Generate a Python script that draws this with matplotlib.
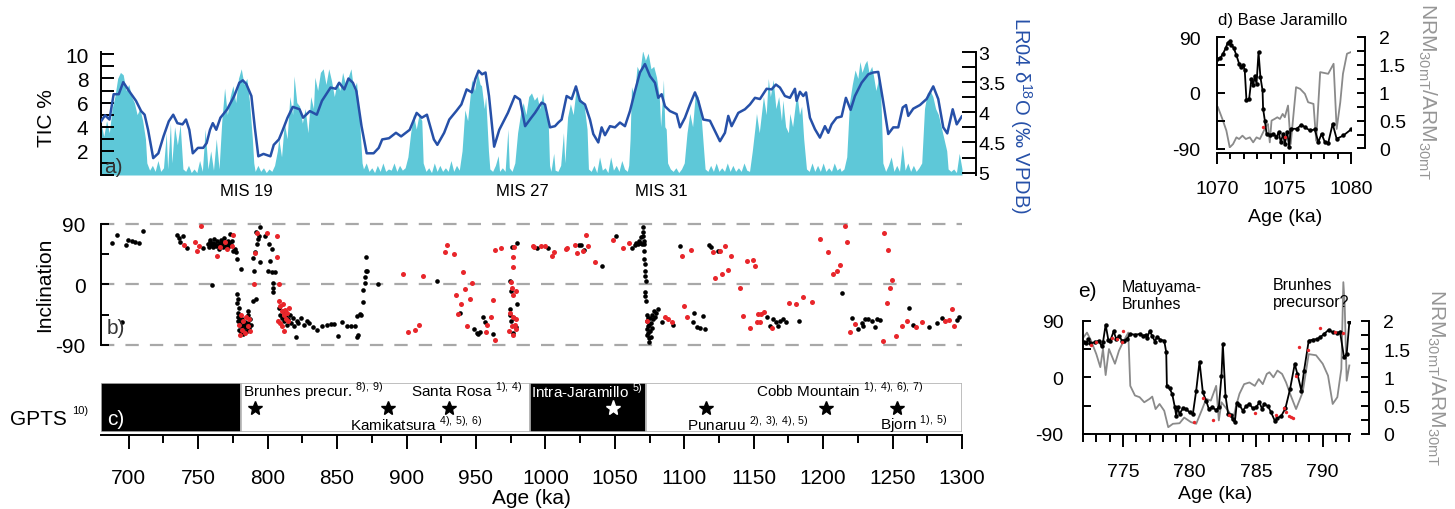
import numpy as np
import matplotlib
matplotlib.use("Agg")
import matplotlib.pyplot as plt
from matplotlib.ticker import MultipleLocator

plt.rcParams['font.family'] = ['Liberation Sans', 'DejaVu Sans']

# ---------------- data ----------------
# a) TIC % (teal fill)
tic_age = [680, 682, 684, 686, 688, 690, 692, 694, 696, 698, 700, 702, 704, 706, 708, 710, 712, 713, 715, 717,
           719, 721, 723, 725, 727, 728, 730, 731, 733, 735, 737, 739, 741, 743, 745, 747, 749, 751, 753, 755,
           757, 759, 761, 763, 765, 767, 769, 771, 773, 775, 777, 779, 781, 783, 785, 787, 789, 790, 791, 793,
           795, 797, 799, 801, 803, 805, 807, 808, 810, 812, 814, 816, 818, 819, 821, 823, 825, 827, 829, 831,
           833, 834, 836, 838, 840, 842, 844, 846, 848, 850, 852, 854, 856, 858, 860, 862, 864, 866, 868, 869,
           871, 873, 875, 877, 879, 881, 883, 885, 887, 889, 891, 893, 895, 897, 899, 901, 903, 905, 907, 909,
           911, 912, 914, 916, 918, 920, 922, 924, 926, 928, 930, 932, 934, 936, 938, 940, 942, 944, 946, 947,
           949, 951, 953, 954, 956, 957, 959, 960, 962, 964, 966, 967, 969, 971, 973, 974, 976, 978, 980, 982,
           984, 986, 988, 990, 992, 994, 996, 998, 1000, 1002, 1003, 1004, 1006, 1007, 1009, 1011, 1013, 1014, 1016, 1018,
           1020, 1022, 1024, 1026, 1028, 1030, 1031, 1033, 1035, 1037, 1039, 1041, 1043, 1045, 1047, 1049, 1051, 1053, 1055, 1057,
           1059, 1060, 1061, 1062, 1064, 1066, 1068, 1070, 1072, 1074, 1076, 1078, 1080, 1082, 1083, 1085, 1086, 1087, 1088, 1090,
           1092, 1094, 1096, 1098, 1100, 1102, 1104, 1106, 1108, 1110, 1112, 1114, 1115, 1117, 1119, 1121, 1123, 1125, 1127, 1129,
           1131, 1133, 1135, 1137, 1139, 1141, 1143, 1145, 1147, 1149, 1151, 1152, 1154, 1156, 1157, 1159, 1160.5, 1162, 1164, 1166,
           1168, 1170, 1171, 1173, 1175, 1176, 1178, 1181, 1183, 1184.5, 1186, 1188, 1190, 1192, 1194, 1196, 1198, 1200, 1202, 1204,
           1206, 1208, 1210, 1212, 1213, 1215, 1217, 1219, 1221, 1223, 1225, 1226.5, 1228, 1230, 1231.5, 1233, 1235, 1236, 1238, 1240,
           1241, 1242, 1243, 1245, 1247, 1249, 1251, 1253, 1255, 1257, 1259, 1261, 1263, 1265, 1267, 1269, 1271, 1273, 1275, 1277,
           1279, 1281, 1283, 1285, 1287, 1289, 1290, 1292, 1294, 1296, 1298, 1300]
tic = [4.3, 3.2, 4.5, 3.5, 5.5, 6.5, 8.0, 8.5, 8.3, 7.0, 7.5, 6.5, 6.0, 5.0, 5.5, 4.5, 3.0, 1.0, 0.4, 0.8,
       0.3, 1.2, 0.3, 0.6, 3.5, 0.5, 4.3, 1.0, 4.0, 2.5, 4.2, 0.5, 0.3, 0.8, 0.2, 0.5, 0.2, 1.2, 0.3, 3.8,
       0.5, 2.0, 0.4, 3.0, 0.5, 4.5, 7.2, 5.0, 6.5, 7.4, 6.0, 8.0, 8.8, 7.5, 8.0, 6.0, 3.0, 1.0, 0.3, 0.8,
       0.3, 0.6, 0.2, 0.5, 0.3, 0.8, 2.0, 3.0, 1.5, 4.3, 3.0, 6.5, 5.0, 8.2, 6.0, 5.7, 4.3, 5.5, 3.5, 6.5,
       5.5, 8.1, 7.0, 8.5, 8.8, 7.5, 8.8, 7.8, 6.5, 7.7, 7.0, 8.5, 7.5, 8.1, 8.8, 7.0, 7.7, 4.9, 1.0, 0.5,
       1.0, 0.3, 0.6, 0.2, 0.8, 0.3, 1.0, 0.3, 0.5, 0.4, 1.0, 0.3, 0.8, 0.4, 0.6, 1.5, 3.5, 5.0, 3.8, 5.0,
       4.5, 1.0, 0.3, 0.6, 0.2, 1.0, 0.3, 0.8, 0.3, 0.6, 0.3, 1.2, 0.3, 0.8, 0.4, 2.0, 5.4, 4.5, 6.8, 7.9,
       7.0, 8.5, 7.5, 7.4, 5.5, 6.5, 2.0, 0.5, 0.3, 0.8, 1.6, 0.3, 0.6, 0.3, 3.8, 0.6, 0.3, 1.0, 3.5, 5.0,
       6.0, 5.0, 6.5, 6.8, 6.2, 6.5, 5.5, 6.8, 5.1, 4.5, 0.8, 0.3, 1.8, 0.4, 0.3, 0.8, 3.5, 1.0, 4.8, 5.9,
       5.0, 7.0, 6.5, 6.2, 5.7, 3.8, 0.5, 0.3, 0.8, 0.2, 1.5, 0.4, 0.6, 0.2, 1.5, 0.4, 0.8, 0.3, 1.2, 0.5,
       0.3, 0.8, 3.0, 7.3, 6.5, 9.0, 8.5, 10.3, 9.5, 10.1, 8.8, 9.0, 8.1, 6.5, 4.0, 7.9, 4.0, 3.8, 1.0, 0.5,
       0.3, 0.6, 0.2, 0.5, 1.0, 3.5, 5.1, 4.0, 6.8, 6.5, 5.1, 2.0, 0.5, 0.3, 0.8, 0.3, 1.0, 0.3, 0.6, 0.3,
       1.0, 0.3, 0.8, 0.3, 0.6, 0.3, 1.0, 0.4, 0.3, 2.0, 4.0, 5.1, 3.5, 5.5, 6.5, 5.0, 8.0, 6.5, 7.9, 5.5,
       6.5, 4.5, 6.2, 4.0, 3.5, 5.1, 4.0, 6.8, 5.0, 5.7, 3.0, 0.5, 0.3, 1.0, 0.3, 0.8, 0.3, 1.0, 0.3, 0.6,
       0.3, 1.0, 0.4, 0.6, 0.3, 0.5, 1.5, 6.0, 7.5, 8.7, 8.0, 9.4, 8.5, 9.2, 9.5, 8.5, 9.0, 8.4, 7.0, 8.0,
       7.9, 5.0, 1.0, 0.3, 0.8, 1.5, 0.3, 0.8, 0.3, 2.5, 0.4, 1.0, 0.3, 0.8, 0.3, 0.6, 1.0, 5.5, 6.8, 7.0,
       6.5, 5.5, 5.0, 4.0, 3.0, 2.0, 0.5, 0.3, 0.5, 0.2, 1.8, 0.5]

# a) LR04 benthic d18O (blue line)
lr04_age = [680.0, 682.9, 686.1, 689.1, 692.8, 696.0, 700.3, 705.2, 708.9, 711.4, 713.9, 717.6, 721.3, 725.0, 728.8,
            732.0, 735.0, 738.7, 741.2, 743.6, 746.1, 749.8, 753.6, 756.1, 758.5, 760.5, 763.0, 766.0, 770.9, 775.9,
            779.6, 782.1, 784.6, 788.3, 790.8, 793.3, 797.0, 802.0, 804.4, 808.1, 810.6, 814.3, 818.1, 823.0, 825.5,
            830.4, 835.4, 839.1, 845.3, 849.0, 851.5, 855.2, 858.2, 861.4, 863.9, 867.6, 871.3, 876.3, 880.0, 882.5,
            887.4, 892.4, 896.1, 902.3, 907.3, 911.0, 914.7, 919.7, 922.2, 927.1, 930.8, 935.8, 939.5, 943.3, 947.0,
            949.5, 951.9, 954.4, 956.9, 959.4, 963.1, 966.8, 973.0, 978.0, 981.7, 985.4, 989.5, 992.5, 997.3, 999.7,
            1003.3, 1006.9, 1009.3, 1011.7, 1015.3, 1018.9, 1022.0, 1024.9, 1028.5, 1032.1, 1034.5, 1038.1, 1040.5, 1042.9, 1046.5,
            1050.1, 1053.7, 1057.3, 1060.9, 1064.5, 1068.1, 1071.7, 1075.3, 1078.9, 1081.3, 1083.7, 1086.1, 1089.7, 1094.5, 1096.9,
            1100.5, 1104.1, 1107.7, 1110.1, 1113.7, 1118.5, 1122.1, 1125.7, 1129.3, 1131.7, 1134.1, 1138.9, 1143.7, 1147.3, 1150.9,
            1154.5, 1159.3, 1162.9, 1166.0, 1168.9, 1172.5, 1176.1, 1179.7, 1180.9, 1183.3, 1185.7, 1187.7, 1190.5, 1194.1, 1197.7,
            1201.3, 1203.7, 1206.1, 1209.7, 1213.3, 1216.4, 1219.8, 1222.9, 1227.7, 1232.5, 1236.1, 1239.7, 1243.3, 1246.9, 1250.5,
            1254.1, 1257.3, 1259.7, 1261.3, 1264.9, 1269.7, 1274.5, 1279.3, 1282.9, 1286.5, 1289.4, 1293.3, 1296.2, 1299.8]
lr04 = [4.15, 4.05, 4.12, 3.70, 3.70, 3.50, 3.65, 3.81, 3.98, 4.04, 4.29, 4.76, 4.68, 4.40, 4.15,
        4.04, 4.18, 4.20, 4.12, 4.29, 4.68, 4.59, 4.59, 4.51, 4.29, 4.18, 4.29, 4.09, 3.95, 3.73,
        3.51, 3.47, 3.53, 3.73, 4.26, 4.73, 4.69, 4.73, 4.54, 4.45, 4.31, 4.09, 3.91, 3.95, 4.09,
        3.98, 4.04, 3.81, 3.59, 3.61, 3.51, 3.62, 3.44, 3.51, 3.65, 4.23, 4.68, 4.68, 4.59, 4.45,
        4.43, 4.34, 4.40, 4.29, 4.01, 4.09, 4.04, 4.45, 4.54, 4.34, 4.12, 3.98, 3.87, 3.62, 3.67,
        3.45, 3.31, 3.37, 3.34, 3.73, 4.57, 4.29, 4.01, 3.73, 3.79, 4.23, 4.10, 4.01, 3.84, 3.87,
        4.25, 4.23, 4.17, 4.12, 3.73, 3.78, 3.57, 3.81, 3.87, 4.12, 4.36, 4.50, 4.25, 4.38, 4.23,
        4.25, 4.17, 4.23, 3.98, 3.65, 3.34, 3.20, 3.40, 3.51, 3.76, 3.70, 3.90, 3.98, 4.03, 4.25,
        4.09, 3.87, 3.67, 3.81, 4.12, 4.14, 4.31, 4.48, 4.34, 4.06, 4.23, 4.01, 3.95, 3.87, 3.76,
        3.78, 3.61, 3.62, 3.54, 3.59, 3.73, 3.76, 3.61, 3.81, 3.66, 3.73, 3.67, 4.09, 4.28, 4.42,
        4.23, 4.34, 4.20, 4.09, 4.07, 3.76, 3.96, 3.73, 3.51, 3.37, 3.34, 3.33, 3.83, 4.36, 4.25,
        4.25, 3.92, 3.88, 4.06, 3.94, 3.88, 3.78, 3.57, 3.78, 4.25, 4.35, 3.95, 4.20, 4.07]

# b) inclination
black_age = [688.2, 691.8, 694.9, 697.8, 699.7, 702.1, 704.5, 707.6, 710.0,
             734.5, 736.2, 736.9, 739.3, 741.7, 753.2, 758.5, 759.7,
             757.0, 757.8, 758.8, 759.5, 760.3, 761.0, 761.6, 762.3, 763.0, 763.6, 764.2, 764.8, 765.5, 766.1,
             766.8, 767.4, 768.0, 768.6, 769.2, 769.8, 770.5, 771.1, 771.8, 772.4, 773.0, 773.7, 774.5, 775.4,
             776.5, 777.3, 777.7, 780.6,
             777.7, 778.9, 778.2, 779.5, 778.5, 779.0, 780.2, 778.6, 779.8, 780.8, 781.5, 782.3, 779.2, 780.5,
             781.9, 783.0, 783.8, 784.5, 785.2, 786.0, 786.8, 787.5, 786.2, 788.0, 785.5, 789.2, 791.5,
             791.5, 794.6, 792.7, 792.2, 790.8, 794.6, 790.3, 789.5, 793.5,
             798.1, 801.2, 802.9, 801.7, 800.5, 803.4, 805.3, 803.6, 804.1, 804.1,
             808.0, 809.0, 810.0, 811.0, 812.0, 813.0, 814.0, 815.0, 816.0, 817.0, 818.0, 819.0, 820.4, 821.0,
             822.0, 824.0, 826.0, 828.0, 830.0,
             832.9, 835.8, 838.9, 842.5, 845.4, 847.8, 850.4, 853.8, 857.0, 859.8, 862.9, 864.1, 865.3, 864.1,
             866.5, 867.2, 868.4, 868.4, 870.1, 870.1, 870.8, 871.8, 870.6, 879.2,
             921.7, 938.8, 948.6, 950.5, 951.7, 952.9, 955.3, 956.5, 962.5,
             975.7, 979.3, 974.8, 975.2, 974.5, 974.8, 975.5, 976.9, 978.5, 977.5, 979.8,
             994.2, 1002.1, 1024.4, 1025.3, 1028.0, 1040.5, 1050.6, 1062.1,
             1064.5, 1065.5, 1066.5, 1067.2, 1068.0, 1068.8, 1069.5, 1070.0, 1070.4, 1070.6, 1070.8, 1071.0,
             1071.2, 1071.2, 1071.4, 1071.7, 1072.0, 1072.4, 1071.7, 1072.2, 1071.9,
             1072.9, 1073.2, 1073.5, 1073.8, 1074.0, 1074.3, 1074.6, 1074.8, 1075.2, 1075.6, 1076.0, 1076.5,
             1077.0, 1077.5, 1078.0, 1079.0, 1080.0, 1081.3, 1083.7, 1092.1, 1073.3, 1075.8, 1074.0,
             1096.9, 1107.2, 1106.0, 1108.9, 1111.3, 1113.2, 1114.9, 1117.8, 1119.0, 1124.0,
             1159.8, 1161.7, 1164.1, 1165.8, 1167.6, 1168.9, 1170.8, 1173.3, 1182.9,
             1213.8, 1220.5, 1225.3, 1227.7, 1230.1, 1232.5, 1234.9, 1229.0, 1237.3, 1239.0, 1241.0,
             1262.1, 1264.5, 1276.2, 1282.2, 1285.3, 1296.2, 1297.8]
black_inc = [61.2, 73.6, -55.7, 59.2, 66.6, 65.1, 63.6, 61.6, 79.6,
             73.6, 68.6, 62.7, 72.6, 53.7, 53.7, 62.7, -0.5,
             60, 55, 66, 58, 62, 55, 68, 60, 57, 64, 59, 53, 62, 66,
             58, 61, 55, 69, 63, 57, 60, 64, 56, 61, 75, 58, 64, 50,
             52, 48, 37.8, 22.9,
             -14.4, -21.9, -28, -35, -42, -48, -50, -55, -58, -62, -52, -66, -68, -71,
             -74, -60, -56, -63, -70, -58, -65, -52, -45, -60, -40, -25, -21.9,
             77.6, 85, 67.6, 60.2, 47.7, 32.8, 20.4, 40, 72,
             72, 60.2, 52.7, 35.3, 20.4, 17.9, 17.9, 1.5, -6.0, -11,
             -35, -45, -50, -40, -55, -48, -60, -52, -45, -58, -50, -62, -79, -55,
             -58, -50, -60, -55, -57,
             -64.2, -67.6, -61.7, -60.7, -59.2, -59.2, -77.6, -55.7, -61.7, -62.7, -62.7, -79, -75.6, -47.7,
             -44.3, -46, -27, -8, 2.5, 10.4, 19.4, 20.4, 41.3, 0.5,
             4.5, -42.8, -66.6, -72.6, -74.1, -71, -49.2, -56.7, -74.1,
             55.2, 61.6, 5, -10, -36.8, -45, -55, -72.6, -63, -50, -30,
             53.7, 53.7, 58.7, 58.7, 51.2, 27.8, 71.6, 53.7,
             58, 62, 60, 65, 62, 70, 60, 85, 78, 72, 65, 60,
             50, 37.8, 30, 20.4, 12, 5.5, -12, -24.4, -18,
             -66.6, -45, -55, -62, -72, -80, -86.5, -60, -70, -50, -58, -65,
             -45, -52, -40, -48, -43, -36.8, -56.7, -60.7, -76, -79, -50,
             57.7, -42.8, -56.7, -64.2, -65, -47.7, -66.6, 59.2, 56.2, 49.2,
             -49.2, -61.7, -51.7, -56, -61.7, -54.2, -52, -56.7, -55.2,
             -13.4, -50.2, -66, -58, -52, -51, -55, -62, -63, -52, -53,
             -35.3, -60.7, -63.2, -58.2, -50.2, -53.2, -49.2]

red_age = [739.8, 747.7, 748.9, 750.8, 752.0, 763.8, 774.1, 775.3, 769.5, 766.0, 771.0,
           779.5, 780.5, 781.5, 782.5, 783.5, 784.5, 785.5, 786.5, 787.5, 780.0,
           790.3, 791.0, 792.0, 799.4, 807.0, 806.5, 808.4,
           808.5, 809.2, 810.0, 810.8, 811.5, 812.2, 813.0, 813.8, 814.5, 815.2, 809.0, 810.5, 812.0, 807.5,
           897.7, 901.3, 906.1, 909.3, 912.2, 927.9, 929.1, 934.2, 935.7, 937.4, 939.3, 941.0, 942.2, 943.4,
           945.8, 947.5, 957.2, 958.0, 961.1, 962.1, 963.7, 963.7, 967.8,
           977.5, 976.4, 976.9, 975.5, 976.2, 976.4, 978.5, 974.5, 977.0, 978.8, 975.8, 973.8, 978.5, 977.8, 976.5,
           991.1, 991.8, 996.6, 999.7, 1004.5, 1006.2, 1014.8, 1015.8, 1021.3, 1023.0, 1026.8, 1029.2, 1030.4,
           1035.7, 1048.4, 1056.1, 1060.4, 1072.9, 1086.1, 1088.5, 1090.9, 1100.0, 1101.7, 1098.6, 1104.6,
           1120.4, 1125.7, 1129.3, 1133.4, 1131.7, 1127.4, 1122.1, 1140.1, 1142.5, 1145.0, 1149.7, 1151.2,
           1147.3, 1153.3, 1155.0, 1157.6, 1152.1, 1154.5, 1162.9, 1175.6, 1180.5, 1185.2, 1191.7, 1197.7,
           1203.7, 1207.3, 1210.2, 1212.1, 1215.7, 1217.4, 1219.3, 1222.9, 1244.0, 1246.9, 1249.8, 1248.1,
           1245.7, 1242.9, 1252.2, 1257.0, 1260.2, 1266.9, 1271.4, 1287.8, 1290.9, 1292.5, 1294.2]
red_inc = [59.2, 63.6, 50.2, 56.7, 87.5, 42.8, 57.7, 73.6, 62.7, 55, 52,
           -60, -45, -68, -55, -72, -48, -62, -52, -70, -75,
           0.5, 46, 76.6, 76.6, 72, 40.3, 0.5,
           -25, -33, -40, -30, -45, -38, -52, -42, -55, -35, -58, -62, -70, -55,
           15.4, -70.6, -67.6, -60.2, 12.9, 47.7, 58.7, 44.8, -15.4, -44.3, -29.3, 17.9, -7.0, -62.7,
           -21.9, 2.5, -70.6, -60, -48.2, -23.4, -83, 51.7, 53.7,
           55, 40.3, 25.4, 3, -5, -15.4, -10, -42, -48, -52, -62, -70, -67, -60, -75,
           57.2, 56.2, 57.7, 57.7, 42.8, 47.7, 52.7, 54, 58.7, 46.2, 49.2, 74.1, 56.7,
           32.8, 66.1, 53.7, 61.7, -54.2, -48.2, -51.7, -56.7, -32.3, -48.2, 41.8, 51.7,
           47.7, 49.2, 56.7, 42.8, 21.4, 15.4, 8.9, -5, -46.7, 34.8, 36.8, 26.8,
           -65.6, -43.8, -44.5, -41.8, -55.7, -56.5, -65.1, -27.8, -28.8, -18.9, -25.9, 67.6,
           47.7, 15.4, 19.4, 29.3, 86.5, 63.6, -71.6, -59.2, 76.6, 51.7, 6, -5.5,
           -28.3, -85, -76.6, -61.7, -54.2, -64.2, -55.7, -55.2, -53.2, -36.8, -62.7]

# c) GPTS polarity chrons (age start, age end, normal?)
chron_start = [680, 781, 988.9, 1072.5]
chron_end = [781, 988.9, 1072.5, 1300]
chron_normal = [True, False, True, False]
event_name = ["Brunhes precur.", "Kamikatsura", "Santa Rosa", "Intra-Jaramillo",
              "Punaruu", "Cobb Mountain", "Bjorn"]
event_ref = ["8), 9)", "4), 5), 6)", "1), 4)", "5)", "2), 3), 4), 5)", "1), 4), 6), 7)", "1), 5)"]
event_age = [790.8, 886.7, 930.9, 1048.9, 1115.4, 1201.8, 1252.9]

# d) Base Jaramillo
d_age = [1070.0, 1070.25, 1070.45, 1070.65, 1070.8, 1070.95, 1071.07, 1071.25, 1071.45, 1071.65, 1071.8, 1071.95,
         1072.07, 1072.2, 1072.4, 1072.57, 1072.7, 1072.82, 1072.95, 1073.1, 1073.24, 1073.4, 1073.44, 1073.57,
         1073.7, 1073.94, 1074.2, 1074.44, 1074.6, 1074.76, 1074.94, 1075.06, 1075.24, 1075.39, 1075.5, 1075.94,
         1076.3, 1076.56, 1076.93, 1077.3, 1077.56, 1077.8, 1078.05, 1078.3, 1078.63, 1078.93, 1079.43, 1080.0]
d_inc = [55, 56, 63, 72.2, 80.8, 83, 77.6, 72.2, 60.4, 46.9, 41.5, 45.3,
         36.1, -12.4, -9.7, 22.6, 11.8, 26.9, 14.5, 65.7, 25.3, 3.7, -25.9, -44.8,
         -66.3, -69, -66.3, -71.7, -63.6, -79.8, -66.3, -82.5, -63.6, -88, -58.2, -58.2,
         -51.8, -55.5, -60.9, -59.3, -79.8, -66.3, -79.8, -80.9, -50.2, -74.4, -69, -59.3]
d_red_age = [1073.44, 1075.06]
d_red_inc = [-55.5, -71.7]
d_ratio_age = [1070.07, 1070.4, 1070.7, 1070.95, 1071.2, 1071.45, 1071.65, 1071.9, 1072.15, 1072.45, 1072.7,
               1072.95, 1073.2, 1073.44, 1073.7, 1073.8, 1073.94, 1074.07, 1074.3, 1074.5, 1074.7, 1074.9,
               1075.06, 1075.3, 1075.5, 1075.9, 1076.2, 1076.56, 1076.8, 1077.2, 1077.4, 1077.7, 1078.3,
               1078.7, 1078.93, 1079.2, 1079.4, 1079.7, 1080.0]
d_ratio = [0.74, 0.53, 0.32, 0.02, 0.08, 0.20, 0.17, 0.23, 0.17, 0.20, 0.11,
           0.20, 0.17, 0.29, 0.42, 0.44, 0.11, 0.50, 0.53, 0.56, 0.53, 0.62,
           0.56, 0.77, 0.08, 1.10, 1.07, 0.98, 0.83, 0.80, 0.14, 1.37, 1.34,
           1.52, 0.35, 0.83, 1.34, 1.70, 1.73]

# e) Matuyama-Brunhes
e_age = [772.05, 772.25, 772.4, 772.55, 772.9, 773.2, 773.4, 773.5, 773.7, 773.9, 774.05, 774.3, 774.5, 774.7,
         774.95, 775.1, 775.3, 775.55, 775.9, 776.25, 776.5, 776.7, 776.8, 777.0, 777.2, 777.4, 777.55, 777.8,
         778.1, 778.25, 778.3, 778.5, 778.7, 778.9, 779.0, 779.1, 779.25, 779.5, 779.75, 780.0, 780.25, 780.5,
         780.75, 781.0, 781.25, 781.45, 781.7, 782.0, 782.2, 782.4, 782.5, 782.7, 782.9, 783.1, 783.25, 783.4,
         783.55, 783.75, 784.0, 784.25, 784.5, 784.75, 785.0, 785.25, 785.45, 785.6, 785.9, 786.1, 786.4, 786.6,
         786.9, 787.2, 787.55, 787.9, 788.1, 788.4, 788.6, 788.95, 789.25, 789.6, 789.8, 790.1, 790.45, 790.75,
         791.1, 791.3, 791.6, 791.8, 792.0]
e_inc = [56.6, 54.5, 60.9, 54.5, 55.6, 58.2, 49.2, 55.6, 83.6, 59.8, 58.2, 73.1, 60.9, 65.1,
         58.2, 58.2, 60.9, 68.8, 67.8, 68.8, 66.2, 67.2, 61.9, 73.1, 66.2, 56.6, 64.6, 59.8,
         58.2, 39.7, -14.3, -17.5, -26.5, -47.6, -60.9, -47.6, -58.2, -49.2, -50.3, -55.6, -58.2, -21.2,
         24.9, -23.8, -37.1, -50.3, -47.6, -51.9, -47.6, 2.6, 52.9, -29.1, -58.2, -59.8, -66.2, -71.5,
         -40.8, -43.9, -52.9, -46.0, -42.3, -49.2, -47.6, -39.7, -50.3, -42.3, -46.0, -54.5, -68.8, -65.1,
         -60.9, -49.2, -18.5, 21.2, 5.3, -21.2, 10.6, 58.2, 59.8, 60.9, 63.5, 68.8, 75.7, 71.5,
         69.9, 72.5, 31.8, 37.1, 87.4]
e_red_age = [772.6, 773.0, 774.2, 775.0, 774.55, 774.9, 780.3, 781.0, 781.75, 782.95, 784.9, 786.5, 787.1,
             787.25, 787.45, 787.6, 787.75, 788.0, 788.25, 788.9, 789.8, 790.9, 791.55]
e_red_inc = [51.4, 56.6, 61.9, 74.1, 61.0, 55.6, -71.5, -33.4, -67.2, -59.8, -56.6, -59.8, -49.2,
             -54.5, -60.9, -63.5, -65.1, 1.6, 47.6, 44.0, 77.8, 72.5, 69.9]
e_ratio_age = [772.05, 772.3, 772.6, 773.0, 773.3, 773.5, 773.7, 773.95, 774.4, 774.7, 775.0, 775.4, 775.55,
               775.9, 776.25, 776.6, 777.0, 777.2, 777.45, 777.75, 778.1, 778.4, 778.75, 779.25, 779.6, 780.1,
               780.5, 780.9, 781.25, 781.6, 782.0, 782.2, 782.4, 782.6, 783.0, 783.25, 783.5, 783.75, 784.1,
               784.5, 784.9, 785.2, 785.5, 785.8, 786.0, 786.3, 786.6, 786.95, 787.25, 787.6, 788.0, 788.5,
               788.95, 789.5, 790.0, 790.4, 790.75, 791.1, 791.4, 791.55, 791.65, 791.8, 792.0]
e_ratio = [1.71, 1.79, 1.65, 1.41, 1.18, 1.50, 1.04, 1.50, 1.24, 1.47, 1.62, 1.79, 0.85,
           0.68, 0.65, 0.56, 0.62, 0.66, 0.44, 0.53, 0.41, 0.12, 0.18, 0.19, 0.29, 0.21,
           0.18, 0.41, 0.62, 0.59, 0.85, 0.24, 0.56, 0.50, 0.38, 0.24, 0.50, 0.71, 0.88,
           0.91, 0.85, 0.97, 0.88, 1.06, 1.09, 1.00, 1.12, 1.06, 0.91, 0.68, 0.44, 0.74,
           1.41, 1.39, 1.24, 1.03, 0.53, 0.65, 1.15, 2.68, 2.29, 0.94, 1.21]

# ---------------- styling ----------------
TEAL = '#5ec8d8'
BLUE = '#2650a8'
RED = '#e8262b'
GREY = '#8a8a8a'
W, H = 1455, 510

fig = plt.figure(figsize=(W / 100, H / 100), dpi=100)


def px_axes(left, top, right, bottom):
    return fig.add_axes([left / W, 1 - bottom / H, (right - left) / W, (bottom - top) / H])


def px_text(x, y, s, **kw):
    return fig.text(x / W, 1 - y / H, s, **kw)


def only_spines(ax, keep):
    for name, sp in ax.spines.items():
        sp.set_visible(name in keep)
        sp.set_linewidth(1.4)


# ---- a) TIC and LR04 ----
ax_a = px_axes(101, 53, 962, 176)
ax_a.fill_between(tic_age, tic, 0, color=TEAL, lw=0)
ax_a.set_xlim(680, 1300)
ax_a.set_ylim(0, 10.19)
only_spines(ax_a, ['left'])
ax_a.set_xticks([])
ax_a.set_yticks([0, 2, 4, 6, 8, 10], ['', '2', '4', '6', '8', '10'])
ax_a.yaxis.set_minor_locator(MultipleLocator(1))
ax_a.tick_params(axis='y', which='both', direction='in', length=9, width=1.4, labelsize=15, pad=9)

ax_lr = ax_a.twinx()
ax_lr.plot(lr04_age, lr04, color=BLUE, lw=1.8)
ax_lr.set_ylim(5.04, 3.0)
only_spines(ax_lr, ['right'])
ax_lr.spines['right'].set_position(('outward', 10))
ax_lr.set_yticks([3, 3.5, 4, 4.5, 5], ['3', '3.5', '4', '4.5', '5'])
ax_lr.yaxis.set_minor_locator(MultipleLocator(0.25))
ax_lr.tick_params(axis='y', which='both', direction='in', length=10, width=1.4, labelsize=14, pad=2)

px_text(46, 118, 'TIC %', fontsize=15, rotation=90, ha='center', va='center')
px_text(1021, 116, 'LR04 δ$^{\\mathregular{18}}$O (‰ VPDB)', fontsize=14.5, rotation=270,
        ha='center', va='center', color=BLUE)
px_text(104, 168, 'a)', fontsize=15, ha='left', va='center', color='#333333')
for label, x in [('MIS 19', 246), ('MIS 27', 522), ('MIS 31', 661)]:
    px_text(x, 191, label, fontsize=12, ha='center', va='center')

# ---- b) inclination ----
ax_b = px_axes(101, 221.6, 962, 349.1)
ax_b.set_xlim(680, 1300)
ax_b.set_ylim(-95, 95)
for yv in (90, 0, -90):
    ax_b.axhline(yv, color='#a8a8a8', lw=1.6, dashes=(6, 5), zorder=1)
ax_b.scatter(black_age, black_inc, s=11, color='k', lw=0, zorder=3)
ax_b.scatter(red_age, red_inc, s=13, color=RED, lw=0, zorder=3)
only_spines(ax_b, ['left'])
ax_b.spines['left'].set_bounds(-90, 90)
ax_b.set_xticks([])
ax_b.set_yticks([-90, -45, 0, 45, 90], ['-90', '', '0', '', '90'])
ax_b.tick_params(axis='y', direction='in', length=6, width=1.4, labelsize=15, pad=11)
px_text(45, 285, 'Inclination', fontsize=15, rotation=90, ha='center', va='center')
px_text(107, 328, 'b)', fontsize=15, ha='left', va='center', color='#333333')

# ---- c) GPTS ----
ax_c = px_axes(101, 384, 962, 433)
ax_c.set_xlim(680, 1300)
ax_c.set_ylim(0, 1)
for s0, s1, normal in zip(chron_start, chron_end, chron_normal):
    ax_c.bar(s0, 1, width=s1 - s0, bottom=0, align='edge',
             color='k' if normal else 'white', edgecolor='#b4b4b4', lw=1.2)
ax_c.plot(event_age, [0.5] * len(event_age), ls='none', marker='*', ms=10,
          color='k', zorder=4)
ax_c.plot([event_age[3]], [0.5], ls='none', marker='*', ms=11, color='white', zorder=5)
label_layout = [(782.5, 0.86), (859.5, 0.17), (903.0, 0.86), (989.5, 0.84),
                (1102.2, 0.18), (1151.7, 0.86), (1241.0, 0.18)]
for i, (name, ref) in enumerate(zip(event_name, event_ref)):
    lx, ly = label_layout[i]
    col = 'white' if i == 3 else 'k'
    ref_tex = ref.replace(', ', ',\\,')
    ax_c.text(lx, ly, name + ' $^{\\mathregular{' + ref_tex + '}}$', fontsize=11,
              ha='left', va='center', color=col, zorder=6)
only_spines(ax_c, ['bottom'])
ax_c.spines['bottom'].set_position(('outward', 2))
ax_c.set_yticks([])
ax_c.set_xticks(np.arange(700, 1301, 50))
ax_c.xaxis.set_minor_locator(MultipleLocator(25))
ax_c.tick_params(axis='x', which='major', direction='out', length=10, width=1.4, labelsize=15, pad=14)
ax_c.tick_params(axis='x', which='minor', direction='out', length=5.5, width=1.4)
px_text(10, 420, 'GPTS', fontsize=15, ha='left', va='center')
px_text(72, 411, '10)', fontsize=8, ha='left', va='center')
px_text(107, 420, 'c)', fontsize=15, ha='left', va='center', color='white')
px_text(531, 499, 'Age (ka)', fontsize=15, ha='center', va='center')

# ---- d) Base Jaramillo ----
ax_d = px_axes(1217, 38, 1351, 149.5)
ax_d2 = ax_d.twinx()
ax_d.set_zorder(ax_d2.get_zorder() + 1)
ax_d.patch.set_visible(False)
ax_d2.plot(d_ratio_age, d_ratio, color=GREY, lw=1.3)
ax_d.plot(d_age, d_inc, color='k', lw=1.3, marker='o', ms=2.2)
ax_d.scatter(d_red_age, d_red_inc, s=6, color=RED, lw=0, zorder=4)
ax_d.set_xlim(1070, 1080)
ax_d.set_ylim(-90, 90)
ax_d2.set_ylim(0, 2)
only_spines(ax_d, ['left', 'bottom'])
ax_d.spines['bottom'].set_position(('outward', 3))
only_spines(ax_d2, ['right'])
ax_d2.spines['right'].set_position(('outward', 10))
ax_d.set_yticks([-90, -45, 0, 45, 90], ['-90', '', '0', '', '90'])
ax_d.set_xticks([1070, 1075, 1080])
ax_d.xaxis.set_minor_locator(MultipleLocator(1))
ax_d.tick_params(axis='y', direction='in', length=5.5, width=1.4, labelsize=14, pad=12)
ax_d.tick_params(axis='x', which='major', direction='out', length=8, width=1.4, labelsize=14, pad=12)
ax_d.tick_params(axis='x', which='minor', direction='out', length=4.5, width=1.4)
ax_d2.set_yticks([0, 0.5, 1, 1.5, 2], ['0', '0.5', '1', '1.5', '2'])
ax_d2.yaxis.set_minor_locator(MultipleLocator(0.25))
ax_d2.tick_params(axis='y', which='both', direction='in', length=6, width=1.4, labelsize=14, pad=10)
px_text(1218, 20, 'd) Base Jaramillo', fontsize=12, ha='left', va='center')
px_text(1285, 218, 'Age (ka)', fontsize=14, ha='center', va='center')
nrm_label = 'NRM$_{\\mathregular{30mT}}$/ARM$_{\\mathregular{30mT}}$'
px_text(1427, 92, nrm_label, fontsize=15, rotation=270, ha='center', va='center', color='#969696')

# ---- e) Matuyama-Brunhes ----
ax_e = px_axes(1083, 321.7, 1350, 435)
ax_e2 = ax_e.twinx()
ax_e.set_zorder(ax_e2.get_zorder() + 1)
ax_e.patch.set_visible(False)
ax_e2.plot(e_ratio_age, e_ratio, color=GREY, lw=1.3, clip_on=False)
ax_e.plot(e_age, e_inc, color='k', lw=1.3, marker='o', ms=2.2)
ax_e.scatter(e_red_age, e_red_inc, s=6, color=RED, lw=0, zorder=4)
ax_e.set_xlim(772, 792.05)
ax_e.set_ylim(-90, 90)
ax_e2.set_ylim(0, 2)
only_spines(ax_e, ['left', 'bottom'])
only_spines(ax_e2, ['right'])
ax_e2.spines['right'].set_position(('outward', 14))
ax_e.set_yticks([-90, -45, 0, 45, 90], ['-90', '', '0', '', '90'])
ax_e.set_xticks([775, 780, 785, 790])
ax_e.xaxis.set_minor_locator(MultipleLocator(1))
ax_e.tick_params(axis='y', direction='in', length=5.5, width=1.4, labelsize=14, pad=14)
ax_e.tick_params(axis='x', which='major', direction='out', length=9, width=1.4, labelsize=14, pad=12)
ax_e.tick_params(axis='x', which='minor', direction='out', length=5.5, width=1.4)
ax_e2.set_yticks([0, 0.5, 1, 1.5, 2], ['0', '0.5', '1', '1.5', '2'])
ax_e2.yaxis.set_minor_locator(MultipleLocator(0.25))
ax_e2.tick_params(axis='y', which='both', direction='in', length=6, width=1.4, labelsize=14, pad=10)
px_text(1078, 292, 'e)', fontsize=15, ha='left', va='center')
px_text(1122, 296, 'Matuyama-\nBrunhes', fontsize=11.5, ha='left', va='center', linespacing=1.1)
px_text(1273, 294, 'Brunhes\nprecursor?', fontsize=11.5, ha='left', va='center', linespacing=1.1)
px_text(1215, 495, 'Age (ka)', fontsize=14, ha='center', va='center')
px_text(1436, 378, nrm_label, fontsize=15, rotation=270, ha='center', va='center', color='#969696')

fig.savefig('out.png', dpi=100)
